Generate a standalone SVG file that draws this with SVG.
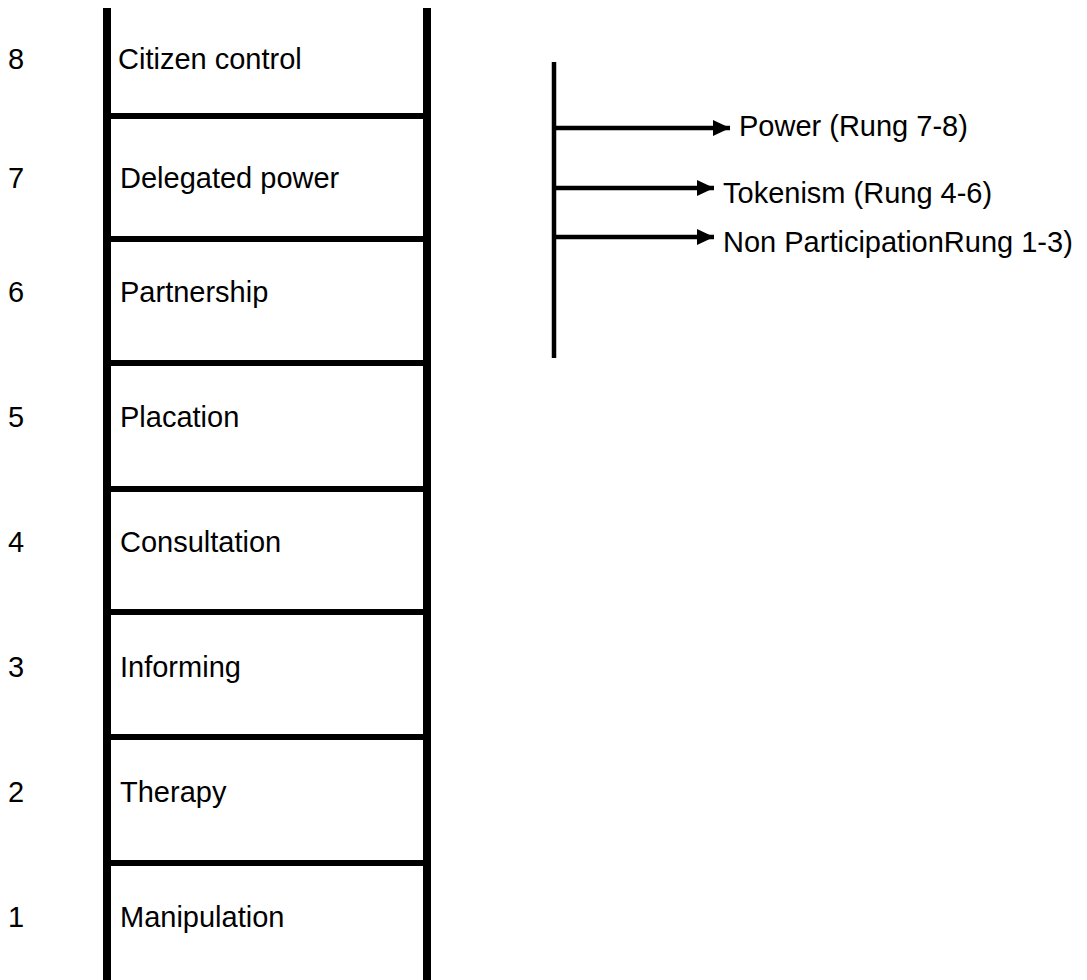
<svg xmlns="http://www.w3.org/2000/svg" width="1087" height="980" viewBox="0 0 1087 980">
  <style>
    .t { font-family: "Liberation Sans", Arial, sans-serif; font-size: 29px; fill: #000; }
    .rail { stroke: #000; stroke-width: 8; fill: none; }
    .rung { stroke: #000; stroke-width: 6; fill: none; }
    .conn { stroke: #000; stroke-width: 4.5; fill: none; }
  </style>
  <defs>
    <marker id="arrow" markerUnits="userSpaceOnUse" markerWidth="17" markerHeight="16" refX="17" refY="8" orient="auto">
      <path d="M0,0 L17,8 L0,16 Z" fill="#000"/>
    </marker>
  </defs>
  <rect width="1087" height="980" fill="#fff"/>

  <g id="ladder">
    <line class="rail" x1="107" y1="8" x2="107" y2="980"/>
    <line class="rail" x1="427" y1="8" x2="427" y2="980"/>
    <line class="rung" x1="107" y1="116" x2="427" y2="116"/>
    <line class="rung" x1="107" y1="239" x2="427" y2="239"/>
    <line class="rung" x1="107" y1="363" x2="427" y2="363"/>
    <line class="rung" x1="107" y1="489" x2="427" y2="489"/>
    <line class="rung" x1="107" y1="612" x2="427" y2="612"/>
    <line class="rung" x1="107" y1="737" x2="427" y2="737"/>
    <line class="rung" x1="107" y1="863" x2="427" y2="863"/>
  </g>

  <g id="rung8"><text class="t" x="8" y="69">8</text><text class="t" x="118" y="69">Citizen control</text></g>
  <g id="rung7"><text class="t" x="8" y="188">7</text><text class="t" x="120" y="188">Delegated power</text></g>
  <g id="rung6"><text class="t" x="8" y="302">6</text><text class="t" x="120" y="302">Partnership</text></g>
  <g id="rung5"><text class="t" x="8" y="427">5</text><text class="t" x="120" y="427">Placation</text></g>
  <g id="rung4"><text class="t" x="8" y="552">4</text><text class="t" x="120" y="552">Consultation</text></g>
  <g id="rung3"><text class="t" x="8" y="677">3</text><text class="t" x="120" y="677">Informing</text></g>
  <g id="rung2"><text class="t" x="8" y="802">2</text><text class="t" x="120" y="802">Therapy</text></g>
  <g id="rung1"><text class="t" x="8" y="927">1</text><text class="t" x="120" y="927">Manipulation</text></g>

  <g id="connectors">
    <line class="conn" x1="554" y1="62" x2="554" y2="358"/>
    <line class="conn" x1="554" y1="128" x2="730" y2="128" marker-end="url(#arrow)"/>
    <line class="conn" x1="554" y1="188" x2="714" y2="188" marker-end="url(#arrow)"/>
    <line class="conn" x1="554" y1="237" x2="714" y2="237" marker-end="url(#arrow)"/>
  </g>

  <g id="power"><text class="t" x="739" y="136">Power (Rung 7-8)</text></g>
  <g id="tokenism"><text class="t" x="723" y="203">Tokenism (Rung 4-6)</text></g>
  <g id="nonparticipation"><text class="t" x="723" y="252">Non ParticipationRung 1-3)</text></g>
</svg>
